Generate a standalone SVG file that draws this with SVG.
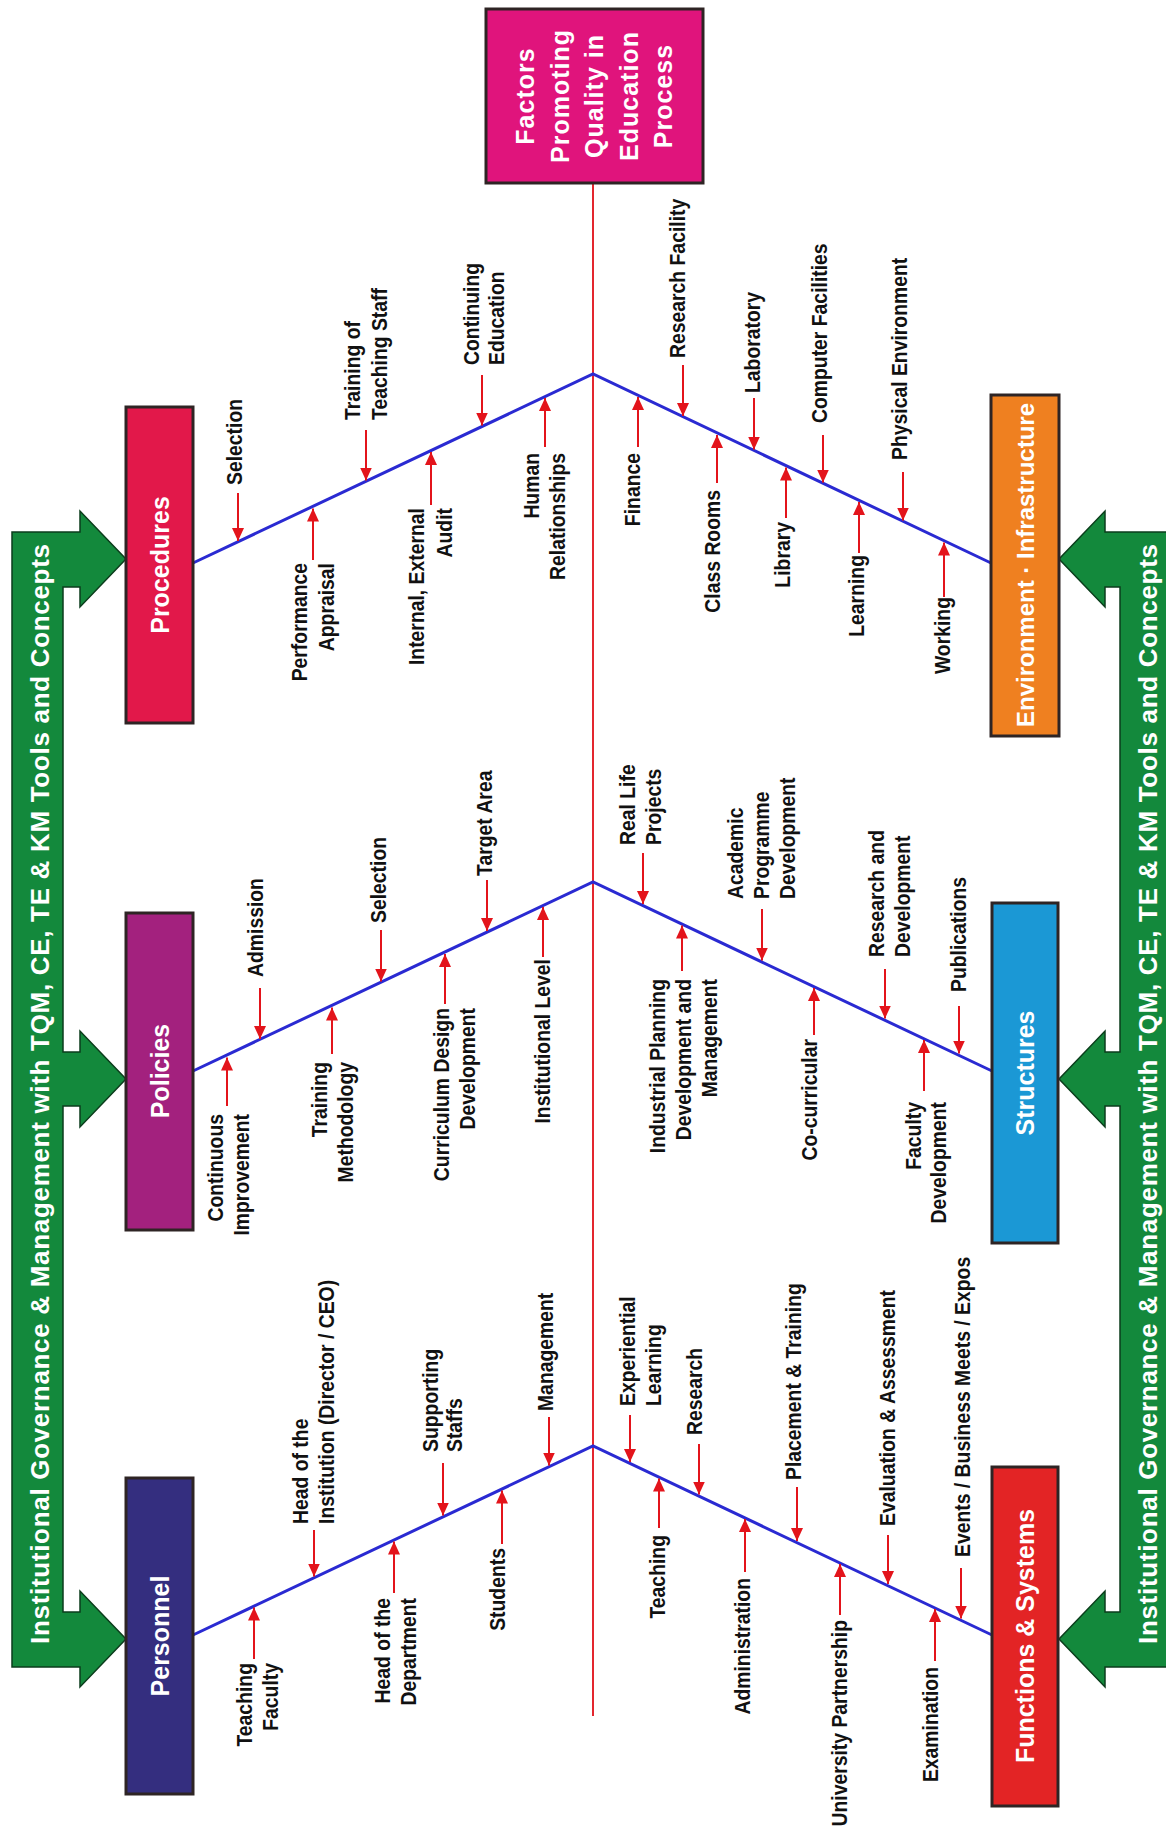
<svg xmlns="http://www.w3.org/2000/svg" width="1166" height="1831" viewBox="0 0 1166 1831">
<style>
.lbl{font-family:"Liberation Sans",Arial,sans-serif;font-weight:bold;font-size:22px;fill:#111}
.a{text-anchor:start}
.b{text-anchor:end}
.box{stroke:#2e2424;stroke-width:3}
.bt{font-family:"Liberation Sans",Arial,sans-serif;font-weight:bold;font-size:25px;fill:#fff;text-anchor:middle}
.band{fill:#13893c;stroke:#0b3d1c;stroke-width:1.5}
.bandt{font-family:"Liberation Sans",Arial,sans-serif;font-weight:bold;font-size:26px;fill:#fff;text-anchor:middle}
.bone{stroke:#2a2ad2;stroke-width:3;fill:none}
.spine{stroke:#e3262e;stroke-width:2}
.arr{stroke:#e3141b;stroke-width:2;marker-end:url(#ah)}
</style>
<defs>
<marker id="ah" viewBox="0 0 13 12" refX="13" refY="6" markerWidth="13" markerHeight="12" markerUnits="userSpaceOnUse" orient="auto"><path d="M0,0 L13,6 L0,12 z" fill="#e3141b"/></marker>
</defs>
<rect width="1166" height="1831" fill="#fff"/>

<g id="band-left">
<path class="band" d="M12,532 L80,532 L80,511 L126,559 L80,607 L80,587 L63,587 L63,1052 L80,1052 L80,1031 L126,1079 L80,1127 L80,1106 L63,1106 L63,1612 L80,1612 L80,1591 L126,1639 L80,1687 L80,1667 L12,1667 Z"/>
<text class="bandt" transform="translate(49,1094) rotate(-90)" textLength="1100" lengthAdjust="spacing">Institutional Governance &amp; Management with TQM, CE, TE &amp; KM Tools and Concepts</text>
</g>
<g id="band-right">
<path class="band" d="M1175,532 L1105,532 L1105,511 L1059,559 L1105,607 L1105,587 L1120,587 L1120,1052 L1105,1052 L1105,1031 L1059,1079 L1105,1127 L1105,1106 L1120,1106 L1120,1612 L1105,1612 L1105,1591 L1059,1639 L1105,1687 L1105,1667 L1175,1667 Z"/>
<text class="bandt" transform="translate(1157,1094) rotate(-90)" textLength="1100" lengthAdjust="spacing">Institutional Governance &amp; Management with TQM, CE, TE &amp; KM Tools and Concepts</text>
</g>

<g id="connectors">
<line class="spine" x1="593" y1="183" x2="593" y2="1716"/>
<polyline class="bone" points="193,563 593,374 991,563"/>
<polyline class="bone" points="193,1071 593,882 992,1071"/>
<polyline class="bone" points="193,1635 593,1446 992,1635"/>
<!-- Procedures -->
<line class="arr" x1="238" y1="493" x2="238" y2="541"/>
<line class="arr" x1="313" y1="560" x2="313" y2="508.5"/>
<line class="arr" x1="366" y1="430" x2="366" y2="480.5"/>
<line class="arr" x1="431" y1="505" x2="431" y2="452"/>
<line class="arr" x1="482" y1="375" x2="482" y2="425.5"/>
<line class="arr" x1="545" y1="447" x2="545" y2="398"/>
<!-- Environment -->
<line class="arr" x1="683" y1="365" x2="683" y2="416"/>
<line class="arr" x1="638" y1="447" x2="638" y2="397"/>
<line class="arr" x1="754" y1="398" x2="754" y2="449.5"/>
<line class="arr" x1="717" y1="483" x2="717" y2="435"/>
<line class="arr" x1="823" y1="435" x2="823" y2="482.5"/>
<line class="arr" x1="786" y1="518" x2="786" y2="467.5"/>
<line class="arr" x1="903" y1="472" x2="903" y2="520.5"/>
<line class="arr" x1="859" y1="553" x2="859" y2="502"/>
<line class="arr" x1="944" y1="597" x2="944" y2="542.5"/>
<!-- Policies -->
<line class="arr" x1="227" y1="1106" x2="227" y2="1057.5"/>
<line class="arr" x1="260" y1="988" x2="260" y2="1039"/>
<line class="arr" x1="332" y1="1054" x2="332" y2="1007.5"/>
<line class="arr" x1="381" y1="930" x2="381" y2="981.5"/>
<line class="arr" x1="445" y1="1004" x2="445" y2="954"/>
<line class="arr" x1="487" y1="880" x2="487" y2="931"/>
<line class="arr" x1="543" y1="957" x2="543" y2="907"/>
<!-- Structures -->
<line class="arr" x1="643" y1="853" x2="643" y2="904"/>
<line class="arr" x1="682" y1="971" x2="682" y2="925.5"/>
<line class="arr" x1="762" y1="909" x2="762" y2="960.5"/>
<line class="arr" x1="814" y1="1035" x2="814" y2="988"/>
<line class="arr" x1="885" y1="969" x2="885" y2="1018.5"/>
<line class="arr" x1="924" y1="1091" x2="924" y2="1040"/>
<line class="arr" x1="959" y1="1006" x2="959" y2="1053.5"/>
<!-- Personnel -->
<line class="arr" x1="254" y1="1659" x2="254" y2="1607.5"/>
<line class="arr" x1="314" y1="1530" x2="314" y2="1576.5"/>
<line class="arr" x1="394" y1="1593" x2="394" y2="1541.5"/>
<line class="arr" x1="443" y1="1463" x2="443" y2="1515.5"/>
<line class="arr" x1="502" y1="1544" x2="502" y2="1490.5"/>
<line class="arr" x1="549" y1="1417" x2="549" y2="1465.5"/>
<!-- Functions -->
<line class="arr" x1="630" y1="1415" x2="630" y2="1462"/>
<line class="arr" x1="659" y1="1528" x2="659" y2="1478.5"/>
<line class="arr" x1="699" y1="1444" x2="699" y2="1494.5"/>
<line class="arr" x1="745" y1="1572" x2="745" y2="1519"/>
<line class="arr" x1="797" y1="1487" x2="797" y2="1541"/>
<line class="arr" x1="840" y1="1615" x2="840" y2="1564"/>
<line class="arr" x1="888" y1="1535" x2="888" y2="1584"/>
<line class="arr" x1="935" y1="1661" x2="935" y2="1609"/>
<line class="arr" x1="961" y1="1568" x2="961" y2="1618.5"/>
</g>

<g id="head">
<rect class="box" x="486" y="9" width="217" height="174" fill="#e0147c"/>
<text class="bt" letter-spacing="1" transform="translate(534,96) rotate(-90)"><tspan x="0">Factors</tspan><tspan x="0" dy="34.5">Promoting</tspan><tspan x="0" dy="34.5">Quality in</tspan><tspan x="0" dy="34.5">Education</tspan><tspan x="0" dy="34.5">Process</tspan></text>
</g>

<g id="procedures">
<rect class="box" x="126" y="407" width="67" height="316" fill="#e2184a"/>
<text class="bt" transform="translate(168.5,565) rotate(-90)">Procedures</text>
<text class="lbl a" transform="translate(242,485) rotate(-90) scale(0.88,1)">Selection</text>
<text class="lbl b" transform="translate(307,563) rotate(-90) scale(0.88,1)"><tspan x="0">Performance</tspan><tspan x="0" dy="27">Appraisal</tspan></text>
<text class="lbl a" transform="translate(360,420) rotate(-90) scale(0.88,1)"><tspan x="0">Training of</tspan><tspan x="0" dy="27">Teaching Staff</tspan></text>
<text class="lbl b" transform="translate(424,508) rotate(-90) scale(0.88,1)"><tspan x="0">Internal, External</tspan><tspan x="0" dy="28">Audit</tspan></text>
<text class="lbl a" transform="translate(479,365) rotate(-90) scale(0.88,1)"><tspan x="0">Continuing</tspan><tspan x="0" dy="25">Education</tspan></text>
<text class="lbl b" transform="translate(539,453) rotate(-90) scale(0.88,1)"><tspan x="0">Human</tspan><tspan x="0" dy="26">Relationships</tspan></text>
</g>

<g id="environment">
<rect class="box" x="991" y="395" width="68" height="341" fill="#ef8020"/>
<text class="bt" style="font-size:24px" transform="translate(1033.5,565) rotate(-90)">Environment · Infrastructure</text>
<text class="lbl a" transform="translate(685,358) rotate(-90) scale(0.88,1)">Research Facility</text>
<text class="lbl b" transform="translate(640,453) rotate(-90) scale(0.88,1)">Finance</text>
<text class="lbl a" transform="translate(760,393) rotate(-90) scale(0.88,1)">Laboratory</text>
<text class="lbl b" transform="translate(720,490) rotate(-90) scale(0.88,1)">Class Rooms</text>
<text class="lbl a" transform="translate(827,423) rotate(-90) scale(0.88,1)">Computer Facilities</text>
<text class="lbl b" transform="translate(790,522) rotate(-90) scale(0.88,1)">Library</text>
<text class="lbl a" transform="translate(907,460) rotate(-90) scale(0.88,1)">Physical Environment</text>
<text class="lbl b" transform="translate(864,555) rotate(-90) scale(0.88,1)">Learning</text>
<text class="lbl b" transform="translate(950,597) rotate(-90) scale(0.88,1)">Working</text>
</g>

<g id="policies">
<rect class="box" x="126" y="913" width="67" height="317" fill="#a3217e"/>
<text class="bt" transform="translate(168.5,1071) rotate(-90)">Policies</text>
<text class="lbl b" transform="translate(223,1114) rotate(-90) scale(0.88,1)"><tspan x="0">Continuous</tspan><tspan x="0" dy="26">Improvement</tspan></text>
<text class="lbl a" transform="translate(263,977) rotate(-90) scale(0.88,1)">Admission</text>
<text class="lbl b" transform="translate(327,1062) rotate(-90) scale(0.88,1)"><tspan x="0">Training</tspan><tspan x="0" dy="26">Methodology</tspan></text>
<text class="lbl a" transform="translate(386,923) rotate(-90) scale(0.88,1)">Selection</text>
<text class="lbl b" transform="translate(449,1008) rotate(-90) scale(0.88,1)"><tspan x="0">Curriculum Design</tspan><tspan x="0" dy="26">Development</tspan></text>
<text class="lbl a" transform="translate(492,876) rotate(-90) scale(0.88,1)">Target Area</text>
<text class="lbl b" transform="translate(550,959) rotate(-90) scale(0.88,1)">Institutional Level</text>
</g>

<g id="structures">
<rect class="box" x="992" y="903" width="66" height="340" fill="#1b98d5"/>
<text class="bt" transform="translate(1034,1073) rotate(-90)">Structures</text>
<text class="lbl a" transform="translate(635,845) rotate(-90) scale(0.88,1)"><tspan x="0">Real Life</tspan><tspan x="0" dy="26">Projects</tspan></text>
<text class="lbl b" transform="translate(665,979) rotate(-90) scale(0.88,1)"><tspan x="0">Industrial Planning</tspan><tspan x="0" dy="26">Development and</tspan><tspan x="0" dy="26">Management</tspan></text>
<text class="lbl a" transform="translate(743,899) rotate(-90) scale(0.88,1)"><tspan x="0">Academic</tspan><tspan x="0" dy="26">Programme</tspan><tspan x="0" dy="26">Development</tspan></text>
<text class="lbl b" transform="translate(817,1039) rotate(-90) scale(0.88,1)">Co-curricular</text>
<text class="lbl a" transform="translate(884,957) rotate(-90) scale(0.88,1)"><tspan x="0">Research and</tspan><tspan x="0" dy="26">Development</tspan></text>
<text class="lbl b" transform="translate(921,1102) rotate(-90) scale(0.88,1)"><tspan x="0">Faculty</tspan><tspan x="0" dy="25">Development</tspan></text>
<text class="lbl a" transform="translate(966,992) rotate(-90) scale(0.88,1)">Publications</text>
</g>

<g id="personnel">
<rect class="box" x="126" y="1478" width="67" height="316" fill="#342e7f"/>
<text class="bt" transform="translate(168.5,1636) rotate(-90)">Personnel</text>
<text class="lbl b" transform="translate(252,1663) rotate(-90) scale(0.88,1)"><tspan x="0">Teaching</tspan><tspan x="0" dy="26">Faculty</tspan></text>
<text class="lbl a" transform="translate(308,1524) rotate(-90) scale(0.88,1)"><tspan x="0">Head of the</tspan><tspan x="0" dy="26">Institution (Director / CEO)</tspan></text>
<text class="lbl b" transform="translate(390,1598) rotate(-90) scale(0.88,1)"><tspan x="0">Head of the</tspan><tspan x="0" dy="26">Department</tspan></text>
<text class="lbl a" transform="translate(438,1452) rotate(-90) scale(0.88,1)"><tspan x="0">Supporting</tspan><tspan x="0" dy="24">Staffs</tspan></text>
<text class="lbl b" transform="translate(505,1548) rotate(-90) scale(0.88,1)">Students</text>
<text class="lbl a" transform="translate(553,1411) rotate(-90) scale(0.88,1)">Management</text>
</g>

<g id="functions">
<rect class="box" x="992" y="1467" width="66" height="339" fill="#e32425"/>
<text class="bt" transform="translate(1034,1636) rotate(-90)">Functions &amp; Systems</text>
<text class="lbl a" transform="translate(635,1406) rotate(-90) scale(0.88,1)"><tspan x="0">Experiential</tspan><tspan x="0" dy="26">Learning</tspan></text>
<text class="lbl b" transform="translate(665,1535) rotate(-90) scale(0.88,1)">Teaching</text>
<text class="lbl a" transform="translate(702,1435) rotate(-90) scale(0.88,1)">Research</text>
<text class="lbl b" transform="translate(750,1578) rotate(-90) scale(0.88,1)">Administration</text>
<text class="lbl a" transform="translate(801,1480) rotate(-90) scale(0.88,1)">Placement &amp; Training</text>
<text class="lbl b" transform="translate(847,1620) rotate(-90) scale(0.88,1)">University Partnership</text>
<text class="lbl a" transform="translate(895,1526) rotate(-90) scale(0.88,1)">Evaluation &amp; Assessment</text>
<text class="lbl b" transform="translate(938,1667) rotate(-90) scale(0.88,1)">Examination</text>
<text class="lbl a" transform="translate(970,1557) rotate(-90) scale(0.88,1)">Events / Business Meets / Expos</text>
</g>
</svg>
